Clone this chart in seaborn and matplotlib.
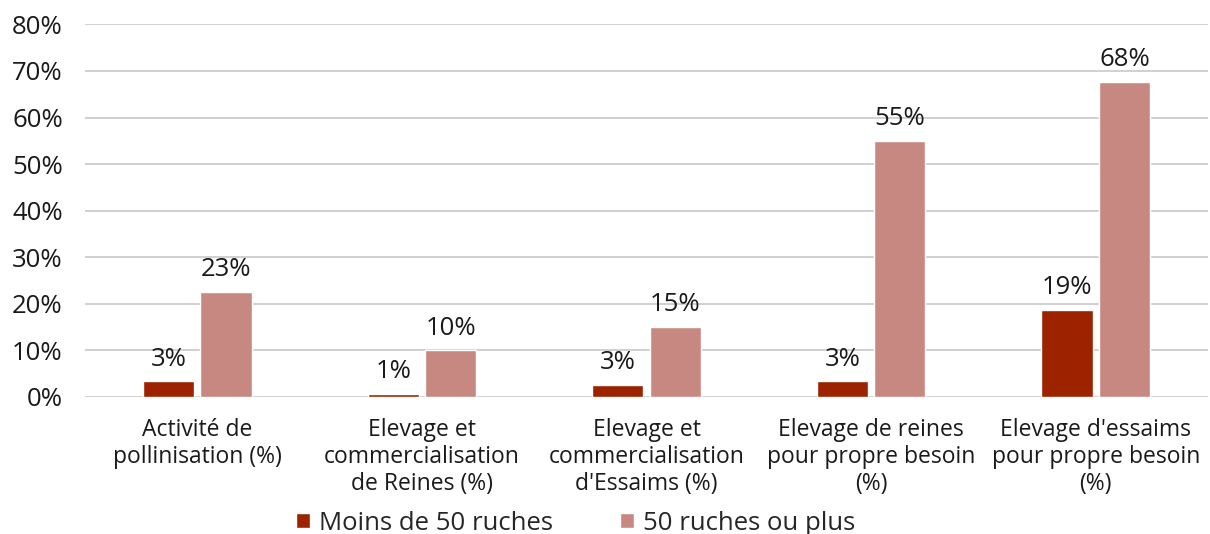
import matplotlib
matplotlib.use("Agg")
import matplotlib.pyplot as plt
import seaborn as sns
import pandas as pd

categories = [
    "Activité de\npollinisation (%)",
    "Elevage et\ncommercialisation\nde Reines (%)",
    "Elevage et\ncommercialisation\nd'Essaims (%)",
    "Elevage de reines\npour propre besoin\n(%)",
    "Elevage d'essaims\npour propre besoin\n(%)",
]
series_names = ["Moins de 50 ruches", "50 ruches ou plus"]
moins_50 = [3.35, 0.7, 2.6, 3.35, 18.7]
plus_50 = [22.6, 10.0, 15.1, 55.0, 67.6]
colors = ["#9C2200", "#C88882"]
y_ticks = [0, 10, 20, 30, 40, 50, 60, 70, 80]

df = pd.DataFrame({
    "categorie": categories * 2,
    "groupe": [series_names[0]] * len(categories) + [series_names[1]] * len(categories),
    "valeur": moins_50 + plus_50,
})

sns.set_theme(style="white")
plt.rcParams["font.family"] = ["Open Sans", "DejaVu Sans"]

fig = plt.figure(figsize=(12.1, 5.34), dpi=100)
ax = fig.add_axes([85 / 1210, 137 / 534, 1123 / 1210, 372.6 / 534])

sns.barplot(
    data=df, x="categorie", y="valeur", hue="groupe",
    palette=colors, saturation=1, width=0.512, gap=0.11, ax=ax,
    order=categories, hue_order=series_names, legend=True,
)

ax.set_ylim(0, 80)
ax.set_yticks(y_ticks)
ax.set_yticklabels([f"{t}%" for t in y_ticks], fontsize=18.5, color="#1a1a1a")
ax.yaxis.grid(True, color="#d0d0d0", linewidth=1.4)
ax.set_axisbelow(True)
ax.tick_params(axis="both", length=0)
ax.tick_params(axis="y", pad=16)
ax.tick_params(axis="x", pad=15)
for lbl in ax.get_xticklabels():
    lbl.set_fontsize(16.5)
    lbl.set_color("#1a1a1a")
    lbl.set_linespacing(1.17)
ax.set_xlabel("")
ax.set_ylabel("")
for s in ax.spines.values():
    s.set_visible(False)

for cont, vals in zip(ax.containers, [moins_50, plus_50]):
    ax.bar_label(cont, labels=[f"{round(v)}%" for v in vals],
                 padding=7, fontsize=18.5, color="#1a1a1a")

handles, labels = ax.get_legend_handles_labels()
ax.get_legend().remove()
fig.legend(handles, labels, loc="center", bbox_to_anchor=(576 / 1210, 11 / 534),
           ncol=2, frameon=False, fontsize=18.5, handlelength=0.55, handleheight=0.55,
           handletextpad=0.35, columnspacing=2.6)

fig.savefig("out.png", dpi=100)
